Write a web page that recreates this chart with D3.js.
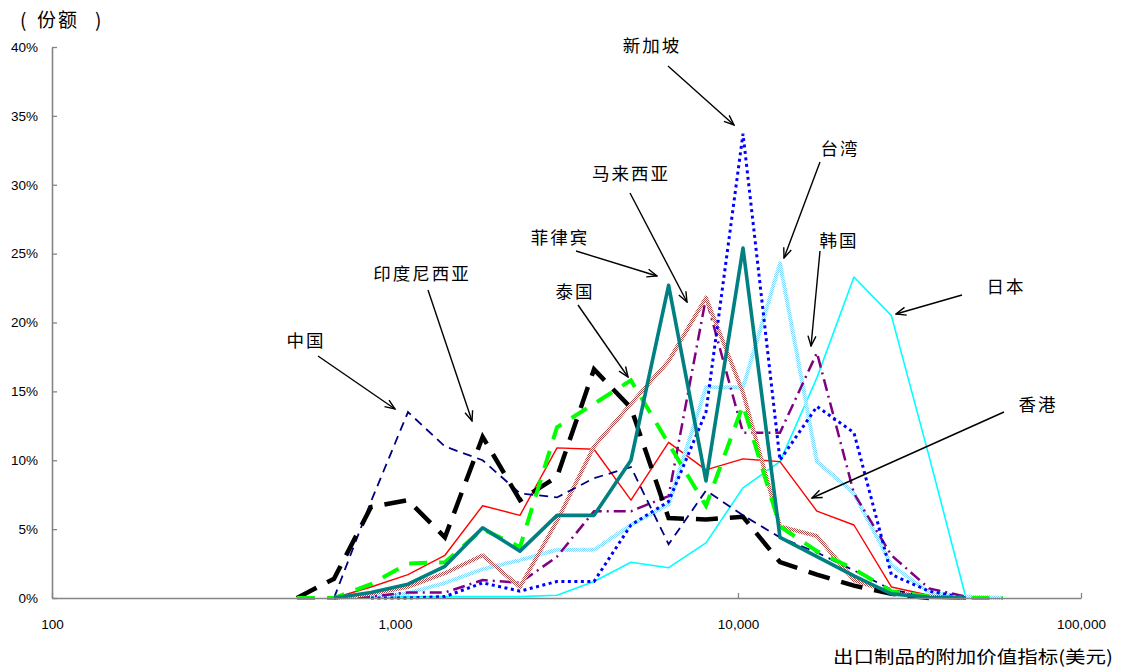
<!DOCTYPE html>
<html><head><meta charset="utf-8">
<script src="https://cdn.jsdelivr.net/npm/d3@7/dist/d3.min.js"></script>
<style>
html,body{margin:0;padding:0;background:#fff;}
svg{display:block;}
</style></head>
<body>
<svg id="chart" width="1121" height="671"></svg>
<script>
// ---- data ----
const xValues = [518, 664, 851, 1091, 1398, 1801, 2314, 2967, 3804, 4875, 6276, 8066, 10342, 13255, 16990, 21780, 28000, 36050, 46200, 59200];
const xTicks = [100, 1000, 10000, 100000];
const yTicks = [0, 5, 10, 15, 20, 25, 30, 35, 40];

const china       = [null, 0, 7.0, 13.5, 11.0, 10.0, 7.6, 7.3, 8.7, 9.5, 3.9, 7.8, 6.0, 4.4, 3.3, 2.0, 0.6, 0.1, 0, null];
const indonesia   = [0, 1.4, 6.6, 7.1, 4.4, 11.7, 7.1, 8.8, 16.6, 13.8, 5.8, 5.7, 5.9, 2.6, 1.7, 0.9, 0.3, 0, null, null];
const thailand    = [0, 0, 1.0, 2.5, 2.6, 5.0, 3.7, 12.4, 14.1, 15.8, 11.2, 6.7, 14.0, 5.2, 3.4, 2.1, 0.5, 0.1, 0, 0];
const philippines = [null, 0, 0.4, 1.0, 2.3, 5.1, 3.4, 6.0, 6.0, 10.0, 22.7, 8.5, 25.4, 4.4, 3.0, 1.6, 0.3, 0.05, 0, null];
const malaysia    = [null, 0, 0.3, 0.8, 1.8, 3.1, 0.8, 5.6, 11.0, 14.1, 17.2, 21.8, 14.9, 5.2, 4.5, 1.3, 0.4, 0.1, 0, null];
const singapore   = [null, null, 0, 0, 0.1, 1.1, 0.5, 1.2, 1.2, 5.3, 7.0, 13.5, 33.7, 10.0, 13.9, 12.0, 1.7, 0.5, 0, null];
const taiwan      = [null, 0, 0.1, 0.35, 1.1, 2.1, 2.75, 3.5, 3.5, 5.3, 6.8, 15.3, 15.3, 24.3, 9.9, 7.6, 2.4, 0.4, 0.1, 0];
const korea       = [null, 0, 0.1, 0.4, 0.4, 1.3, 1.1, 3.0, 6.3, 6.3, 7.4, 21.8, 12.0, 12.0, 17.8, 7.6, 3.1, 0.7, 0.1, null];
const japan       = [null, 0, 0, 0.1, 0.1, 0.1, 0.1, 0.2, 1.2, 2.6, 2.2, 4.0, 8.0, 9.9, 16.0, 23.3, 20.5, 10.3, 0, null];
const hongkong    = [null, 0, 0.8, 1.7, 3.1, 6.7, 6.0, 10.9, 10.8, 7.1, 11.3, 9.3, 10.1, 9.9, 6.3, 5.3, 0.8, 0.2, 0, null];

const seriesNames = ["日本","香港","台湾","韩国","马来西亚","中国","新加坡","印度尼西亚","泰国","菲律宾"];
const seriesData  = [japan, hongkong, taiwan, korea, malaysia, china, singapore, indonesia, thailand, philippines];

// ---- styles ----
const styles = {
  "日本":     {stroke:"#00ffff", width:1.6, dash:null},
  "香港":     {stroke:"#ff0000", width:1.4, dash:null},
  "台湾":     {stroke:"url(#hatchBlue)", width:4, dash:null},
  "韩国":     {stroke:"#800080", width:2.5, dash:"12,5,2,5"},
  "马来西亚": {stroke:"url(#hatchBrown)", width:4, dash:null},
  "中国":     {stroke:"#000080", width:1.8, dash:"9,6"},
  "新加坡":   {stroke:"#0000ff", width:3, dash:"3,3.5"},
  "印度尼西亚":{stroke:"#000000", width:4.5, dash:"22,12"},
  "泰国":     {stroke:"#00ff00", width:4, dash:"18,12"},
  "菲律宾":   {stroke:"#008080", width:3.6, dash:null}
};

const svg = d3.select("#chart");
const defs = svg.append("defs");
function hatch(id, color){
  const p = defs.append("pattern").attr("id", id).attr("width", 2).attr("height", 2)
    .attr("patternUnits", "userSpaceOnUse");
  p.append("rect").attr("width", 2).attr("height", 2).attr("fill", "#fff");
  p.append("rect").attr("width", 1).attr("height", 1).attr("fill", color);
  p.append("rect").attr("x", 1).attr("y", 1).attr("width", 1).attr("height", 1).attr("fill", color);
}
hatch("hatchBrown", "#b04848");
hatch("hatchBlue", "#7fd6ff");

defs.append("marker").attr("id", "arrow").attr("viewBox", "0 0 12 10")
  .attr("refX", 11).attr("refY", 5).attr("markerWidth", 12).attr("markerHeight", 10)
  .attr("markerUnits", "userSpaceOnUse").attr("orient", "auto")
  .append("path").attr("d", "M1,1 L11,5 L1,9").attr("fill", "none")
  .attr("stroke", "#000").attr("stroke-width", 1.4);

// ---- scales ----
const x = d3.scaleLog().domain([100, 100000]).range([52, 1081]);
const y = d3.scaleLinear().domain([0, 40]).range([598, 47]);

const line = d3.line()
  .defined(d => d[1] !== null)
  .x(d => x(d[0])).y(d => y(d[1]));

const gLines = svg.append("g");
seriesNames.forEach((name, i) => {
  const st = styles[name];
  const pts = xValues.map((xv, j) => [xv, seriesData[i][j]]);
  gLines.append("path")
    .attr("d", line(pts))
    .attr("fill", "none")
    .attr("stroke", st.stroke)
    .attr("stroke-width", st.width)
    .attr("stroke-dasharray", st.dash)
    .attr("stroke-linejoin", st.dash ? "miter" : "round");
});

// ---- axes ----
const axisColor = "#858585";
const gy = svg.append("g").attr("transform", "translate(52,0)")
  .call(d3.axisLeft(y).tickValues(yTicks).tickSize(-5).tickSizeOuter(0).tickPadding(14)
    .tickFormat(d => d + "%"));
const gx = svg.append("g").attr("transform", "translate(0,598)")
  .call(d3.axisBottom(x).tickValues(xTicks).tickSize(-5).tickSizeOuter(0).tickPadding(21)
    .tickFormat(d3.format(",")));
[gx, gy].forEach(g => {
  g.select(".domain").attr("stroke", axisColor).attr("stroke-width", 1.6);
  g.selectAll(".tick line").attr("stroke", axisColor).attr("stroke-width", 1.3);
  g.selectAll(".tick text").attr("fill", "#000")
    .style("font-family", "'Liberation Sans', Arial, sans-serif").style("font-size", "13.5px");
});

// ---- annotations ----
const cjk = "'Noto Sans CJK SC', 'Noto Sans', sans-serif";
const labels = [
  {t:"中国", cx:305, cy:339, a:[318,356,395,409]},
  {t:"印度尼西亚", cx:421, cy:272, a:[428,290,472,421]},
  {t:"泰国", cx:574, cy:290, a:[578,305,628,377]},
  {t:"菲律宾", cx:559, cy:236, a:[576,251,657,276]},
  {t:"马来西亚", cx:630, cy:172, a:[630,193,687,302]},
  {t:"新加坡", cx:651, cy:44, a:[668,66,734,125]},
  {t:"台湾", cx:839, cy:147, a:[820,162,784,258]},
  {t:"韩国", cx:838, cy:239, a:[820,251,811,346]},
  {t:"日本", cx:1005, cy:285, a:[962,295,896,314]},
  {t:"香港", cx:1037, cy:403, a:[1004,412,812,498]}
];
const gA = svg.append("g");
labels.forEach(l => {
  gA.append("line").attr("x1", l.a[0]).attr("y1", l.a[1]).attr("x2", l.a[2]).attr("y2", l.a[3])
    .attr("stroke", "#000").attr("stroke-width", 1.4).attr("marker-end", "url(#arrow)");
  gA.append("text").attr("x", l.cx).attr("y", l.cy).attr("text-anchor", "middle")
    .attr("dominant-baseline", "central")
    .attr("textLength", l.t.length * 19.5 - 2).attr("lengthAdjust", "spacing")
    .style("font-family", cjk).style("font-size", "17.5px").text(l.t);
});

const yTitle = svg.append("g").style("font-family", cjk).style("font-size", "19px");
yTitle.append("text").attr("x", 20).attr("y", 18).attr("dominant-baseline", "central").text("(");
yTitle.append("text").attr("x", 37).attr("y", 18).attr("dominant-baseline", "central")
  .attr("textLength", 40).attr("lengthAdjust", "spacing").text("份额");
yTitle.append("text").attr("x", 95).attr("y", 18).attr("dominant-baseline", "central").text(")");

svg.append("text").attr("x", 833).attr("y", 655).attr("dominant-baseline", "central")
  .attr("textLength", 280).attr("lengthAdjust", "spacingAndGlyphs")
  .style("font-family", cjk).style("font-size", "17.5px").text("出口制品的附加价值指标(美元)");
</script>
</body></html>
